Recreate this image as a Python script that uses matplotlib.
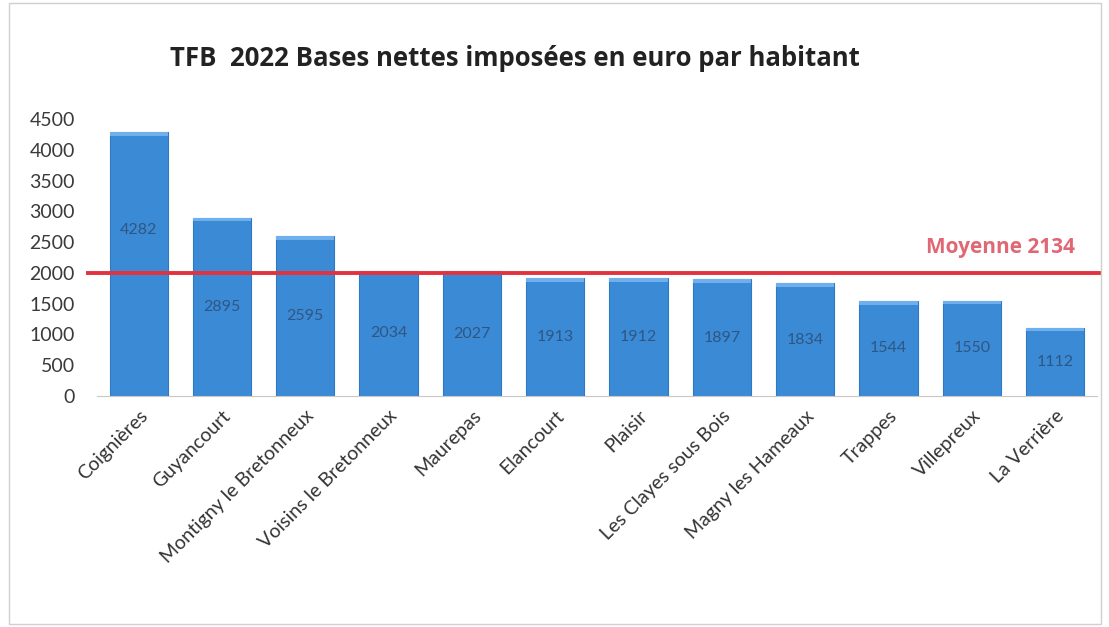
import matplotlib.pyplot as plt
from matplotlib.patches import Rectangle

communes = ["Coignières", "Guyancourt", "Montigny le Bretonneux", "Voisins le Bretonneux",
            "Maurepas", "Elancourt", "Plaisir", "Les Clayes sous Bois",
            "Magny les Hameaux", "Trappes", "Villepreux", "La Verrière"]
bases = [4282, 2895, 2595, 2034, 2027, 1913, 1912, 1897, 1834, 1544, 1550, 1112]
moyenne = 2134
moyenne_line = 2000  # position of the red line as drawn in the source
yticks = [0, 500, 1000, 1500, 2000, 2500, 3000, 3500, 4000, 4500]

plt.rcParams['font.family'] = ['Lato', 'DejaVu Sans']

fig = plt.figure(figsize=(11.09, 6.27), dpi=100)
ax = fig.add_axes([0.0875, 0.3684, 0.9015, 0.4418])

x = list(range(len(communes)))
ax.bar(x, bases, width=0.7, color="#3a8ad6", edgecolor="#2f78c4", linewidth=0.8, zorder=2)
# lighter band on top of each bar
ax.bar(x, [60] * len(bases), bottom=[b - 60 for b in bases], width=0.7,
       color="#6fb0ec", linewidth=0, zorder=3)

# value labels in the middle of the bars, moved above the red line when they would hit it
for xi, v in zip(x, bases):
    ly = v / 2
    if abs(ly - moyenne_line) < 300:
        ly = moyenne_line + 700
    ax.text(xi, ly, str(v), ha="center", va="center", color="#2d4a6e",
            fontsize=11.5, alpha=0.8, zorder=4)

ax.axhline(moyenne_line, xmin=-0.009, xmax=1.003, color="#e2323f", linewidth=2.8,
           zorder=5, clip_on=False)
ax.text(0.978, moyenne_line + 410, f"Moyenne {moyenne}", transform=ax.get_yaxis_transform(),
        ha="right", va="center", fontsize=15, fontweight="bold", color="#e06874",
        family=["Open Sans", "DejaVu Sans"])

ax.set_xlim(-0.5, len(communes) - 0.5)
ax.set_ylim(0, 4500)
ax.set_yticks(yticks)
ax.set_yticklabels([str(t) for t in yticks], fontsize=14, color="#3a3a3a")
ax.set_xticks(x)
ax.set_xticklabels(communes, rotation=45, ha="right", rotation_mode="anchor",
                   fontsize=14, color="#333333")
ax.tick_params(axis="y", length=0, pad=16)
ax.tick_params(axis="x", length=0, pad=8)

for side in ["top", "right", "left"]:
    ax.spines[side].set_visible(False)
ax.spines["bottom"].set_color("#c8c8c8")

fig.text(0.464, 0.907, "TFB  2022 Bases nettes imposées en euro par habitant",
         ha="center", va="center", fontsize=18.5, fontweight="bold", color="#222222",
         family=["Open Sans", "DejaVu Sans"])

fig.patches.append(Rectangle((0.008, 0.005), 0.985, 0.99, transform=fig.transFigure,
                             fill=False, edgecolor="#d0d0d0", linewidth=1))

fig.savefig("out.png", dpi=100)
